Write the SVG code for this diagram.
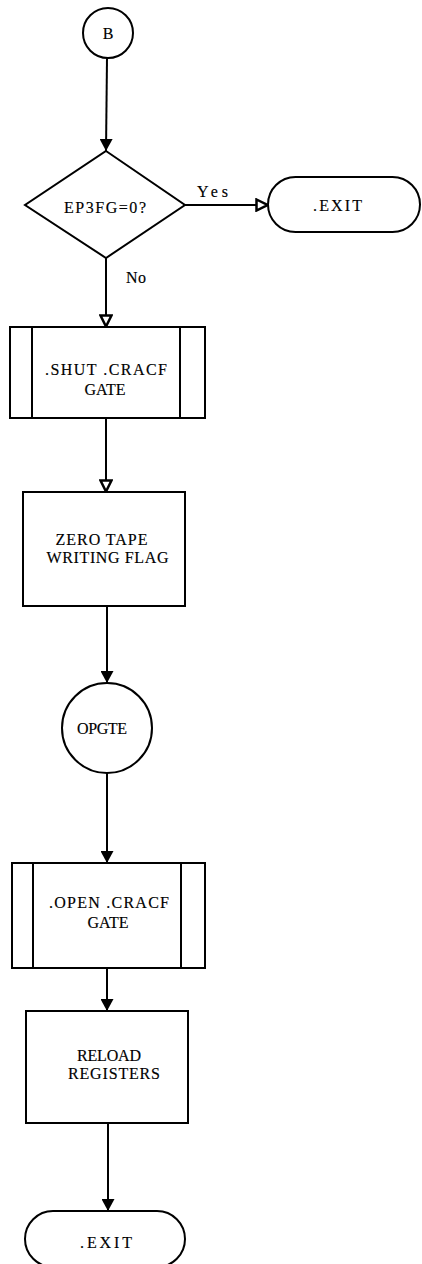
<svg xmlns="http://www.w3.org/2000/svg" width="422" height="1264" viewBox="0 0 422 1264">
<style>
.s{fill:#fff;stroke:#000;stroke-width:2}
.c{fill:none;stroke:#000;stroke-width:2}
text{font-family:"Liberation Serif","Times New Roman",serif;font-size:16px;fill:#000;stroke:#000;stroke-width:0.15;text-anchor:middle}
</style>
<defs>
<marker id="af" viewBox="0 0 12 13" refX="12" refY="6.5" markerWidth="12" markerHeight="13" markerUnits="userSpaceOnUse" orient="auto">
<path d="M0,0 L12,6.5 L0,13 Z" fill="#000"/>
</marker>
<marker id="ao" viewBox="0 0 14 14" refX="13" refY="7" markerWidth="14" markerHeight="14" markerUnits="userSpaceOnUse" orient="auto">
<path d="M1.5,1.5 L12.5,7 L1.5,12.5 Z" fill="#fff" stroke="#000" stroke-width="2.5"/>
</marker>
</defs>
<rect width="422" height="1264" fill="#fff"/>
<g id="connectors">
<path class="c" d="M107,58 L106,151" marker-end="url(#af)"/>
<path class="c" d="M185,205 L268,205" marker-end="url(#ao)"/>
<path class="c" d="M106,258 L106,327" marker-end="url(#ao)"/>
<path class="c" d="M106,418 L106,492" marker-end="url(#ao)"/>
<path class="c" d="M107,606 L107,683" marker-end="url(#af)"/>
<path class="c" d="M107,773 L107,863" marker-end="url(#af)"/>
<path class="c" d="M107,968 L107,1011" marker-end="url(#af)"/>
<path class="c" d="M108,1123 L108,1211" marker-end="url(#af)"/>
<text x="212.5" y="197" textLength="31" lengthAdjust="spacing">Yes</text>
<text x="136" y="283" textLength="20" lengthAdjust="spacing">No</text>
</g>
<g id="n-b">
<circle class="s" cx="108" cy="33" r="25"/>
<text x="108" y="39">B</text>
</g>
<g id="n-decision">
<path class="s" d="M106,151 L185,205 L106,258 L25,205 Z"/>
<text x="105" y="213" textLength="82" lengthAdjust="spacing">EP3FG=0?</text>
</g>
<g id="n-exit1">
<rect class="s" x="268" y="177" width="152" height="55" rx="27.5" ry="27.5"/>
<text x="337.5" y="211" textLength="49" lengthAdjust="spacing">.EXIT</text>
</g>
<g id="n-shut">
<rect class="s" x="10" y="327" width="195" height="91"/>
<line class="c" x1="32" y1="327" x2="32" y2="418"/>
<line class="c" x1="180" y1="327" x2="180" y2="418"/>
<text x="106" y="375" textLength="122" lengthAdjust="spacing">.SHUT .CRACF</text>
<text x="105" y="395" textLength="41" lengthAdjust="spacing">GATE</text>
</g>
<g id="n-zero">
<rect class="s" x="23" y="492" width="162" height="114"/>
<text x="101.5" y="545" textLength="92" lengthAdjust="spacing">ZERO TAPE</text>
<text x="107.5" y="563" textLength="122" lengthAdjust="spacing">WRITING FLAG</text>
</g>
<g id="n-opgte">
<circle class="s" cx="107" cy="728" r="45"/>
<text x="102" y="734" textLength="50" lengthAdjust="spacing">OPGTE</text>
</g>
<g id="n-open">
<rect class="s" x="12" y="863" width="193" height="105"/>
<line class="c" x1="33" y1="863" x2="33" y2="968"/>
<line class="c" x1="181" y1="863" x2="181" y2="968"/>
<text x="109" y="908" textLength="120" lengthAdjust="spacing">.OPEN .CRACF</text>
<text x="108" y="928" textLength="41" lengthAdjust="spacing">GATE</text>
</g>
<g id="n-reload">
<rect class="s" x="26" y="1011" width="162" height="112"/>
<text x="109" y="1061" textLength="64" lengthAdjust="spacing">RELOAD</text>
<text x="114" y="1079" textLength="92" lengthAdjust="spacing">REGISTERS</text>
</g>
<g id="n-exit2">
<rect class="s" x="25" y="1211" width="160" height="56" rx="28" ry="28"/>
<text x="106" y="1248" textLength="52" lengthAdjust="spacing">.EXIT</text>
</g>
</svg>
